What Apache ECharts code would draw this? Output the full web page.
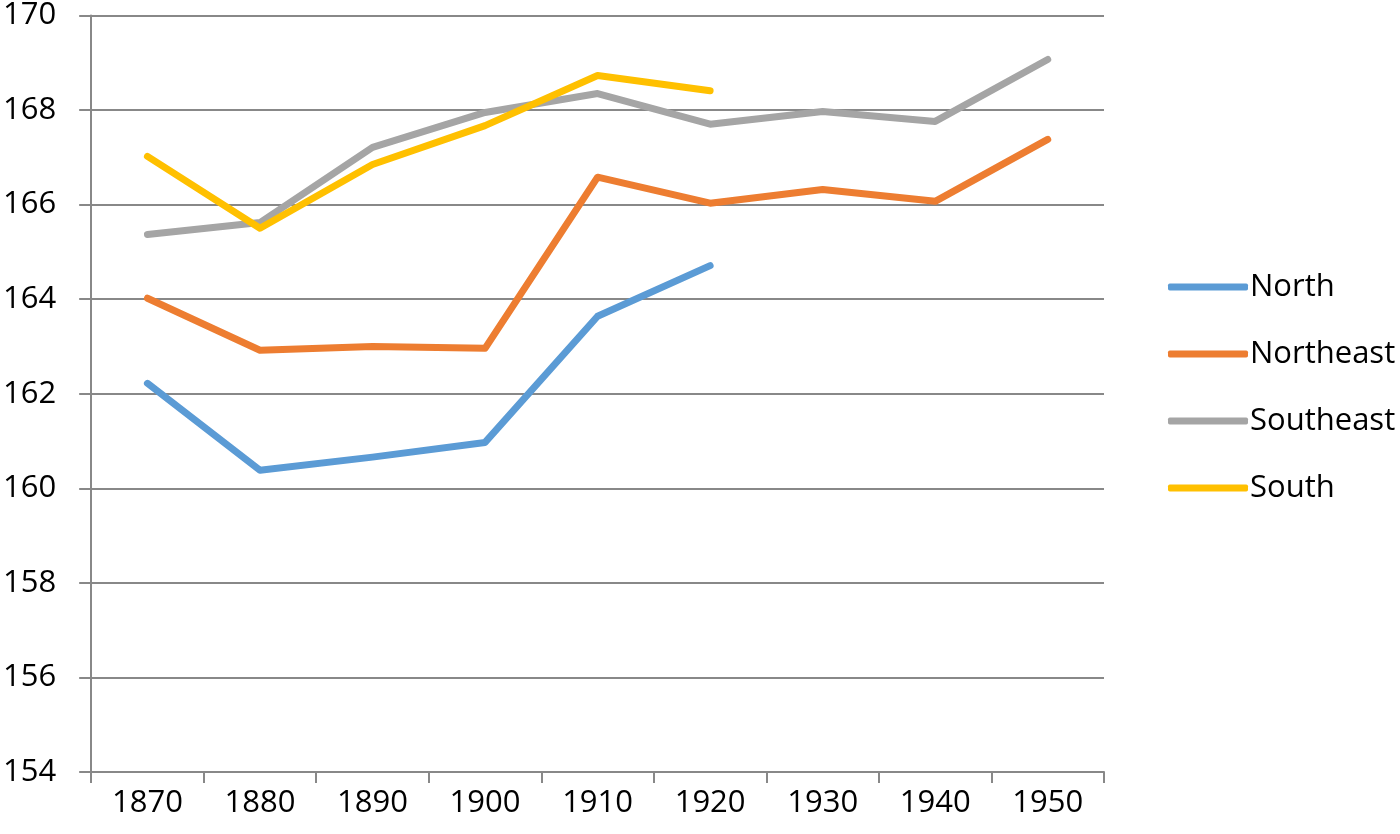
<!DOCTYPE html>
<html>
<head>
<meta charset="utf-8">
<script src="https://cdn.jsdelivr.net/npm/echarts@6/dist/echarts.min.js"></script>
<style>html,body{margin:0;padding:0;background:#fff}#c{width:1400px;height:834px}</style>
</head>
<body>
<div id="c"></div>
<script>
const categories = ['1870','1880','1890','1900','1910','1920','1930','1940','1950'];
const north     = [162.22, 160.38, 160.66, 160.97, 163.64, 164.71, '-', '-', '-'];
const northeast = [164.02, 162.92, 163.00, 162.96, 166.58, 166.03, 166.32, 166.07, 167.38];
const southeast = [165.37, 165.62, 167.21, 167.95, 168.35, 167.70, 167.97, 167.76, 169.07];
const south     = [167.02, 165.50, 166.85, 167.67, 168.73, 168.41, '-', '-', '-'];
const seriesNames = ['North','Northeast','Southeast','South'];
const colors = ['#5B9BD5','#ED7D31','#A5A5A5','#FFC000'];

const FONT = 'Open Sans';
const chart = echarts.init(document.getElementById('c'));
const mk = (name, data, i) => ({
  name, type: 'line', data, symbol: 'none', connectNulls: false,
  lineStyle: { width: 7, color: colors[i], cap: 'round', join: 'round' },
  itemStyle: { color: colors[i] }
});
chart.setOption({
  animation: false,
  backgroundColor: '#fff',
  grid: { left: 90, right: 296, top: 15, bottom: 62 },
  legend: {
    orient: 'vertical', left: 1163, top: 266,
    itemWidth: 80, itemHeight: 7, itemGap: 35,
    icon: 'roundRect',
    textStyle: { fontFamily: FONT, fontSize: 31, color: '#000', lineHeight: 32, padding: [0,0,0,-3] },
    data: seriesNames
  },
  xAxis: {
    type: 'category', data: categories, boundaryGap: true,
    axisLine: { show: true, lineStyle: { color: '#888', width: 2 } },
    axisTick: { show: true, length: 11, lineStyle: { color: '#888', width: 2 } },
    axisLabel: { fontFamily: FONT, fontSize: 31, color: '#000', margin: 16 },
    splitLine: { show: false }
  },
  yAxis: {
    type: 'value', min: 154, max: 170, interval: 2,
    axisLine: { show: true, lineStyle: { color: '#888', width: 2 } },
    axisTick: { show: true, length: 12, lineStyle: { color: '#888', width: 2 } },
    axisLabel: { fontFamily: FONT, fontSize: 31, color: '#000', margin: 35 },
    splitLine: { show: true, lineStyle: { color: '#888', width: 2 } }
  },
  series: [
    mk('North', north, 0),
    mk('Northeast', northeast, 1),
    mk('Southeast', southeast, 2),
    mk('South', south, 3)
  ]
});
</script>
</body>
</html>
